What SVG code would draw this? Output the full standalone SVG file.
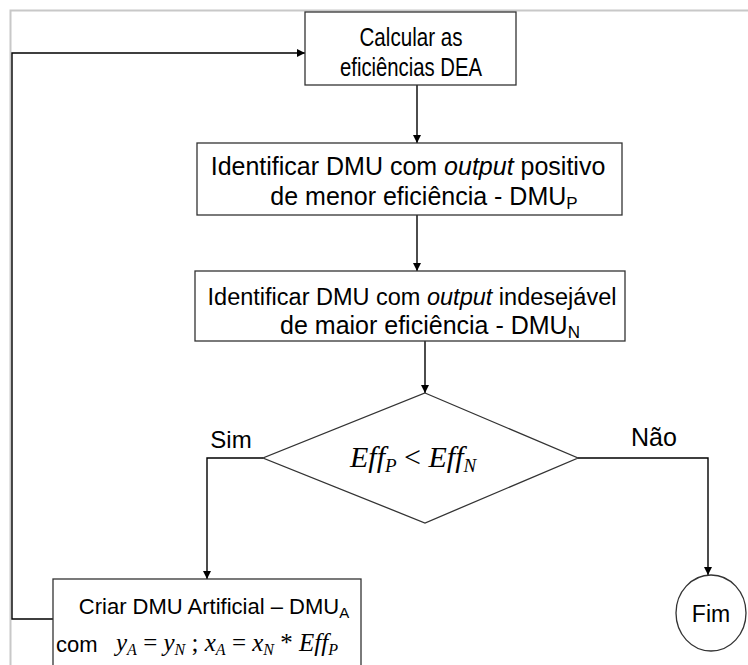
<svg xmlns="http://www.w3.org/2000/svg" width="748" height="665" viewBox="0 0 748 665">
<style>
.box{fill:#fff;stroke:#333;stroke-width:1.3}
.ln{fill:none;stroke:#000;stroke-width:1.4}
.t{font-family:"Liberation Sans",Arial,sans-serif;fill:#000;text-anchor:middle}
.m{font-family:"Liberation Serif","Times New Roman",serif;font-style:italic;fill:#000}
.up{font-style:normal}
</style>
<defs>
<marker id="ah" viewBox="0 0 10 10" refX="10" refY="5" markerWidth="8" markerHeight="8" markerUnits="userSpaceOnUse" orient="auto"><path d="M0,0 L10,5 L0,10 z" fill="#000"/></marker>
</defs>
<rect x="10.5" y="10.5" width="760" height="680" fill="none" stroke="#c8c8c8" stroke-width="2"/>
<g id="connectors">
<path class="ln" d="M53,619 H12 V53 H305" marker-end="url(#ah)"/>
<path class="ln" d="M417,85 V143" marker-end="url(#ah)"/>
<path class="ln" d="M417,215 V271" marker-end="url(#ah)"/>
<path class="ln" d="M425,341 V393" marker-end="url(#ah)"/>
<path class="ln" d="M263,458 H207 V579" marker-end="url(#ah)"/>
<path class="ln" d="M578,458 H708 V575" marker-end="url(#ah)"/>
</g>
<g id="n1">
<rect class="box" x="305" y="12" width="211" height="73"/>
<text class="t" x="411" y="46" font-size="25" textLength="103" lengthAdjust="spacingAndGlyphs">Calcular as</text>
<text class="t" x="411" y="76" font-size="25" textLength="142" lengthAdjust="spacingAndGlyphs">eficiências DEA</text>
</g>
<g id="n2">
<rect class="box" x="197" y="143" width="425" height="72"/>
<text class="t" x="408" y="175" font-size="25">Identificar DMU com <tspan font-style="italic">output</tspan> positivo</text>
<text class="t" x="424" y="205" font-size="25">de menor eficiência - DMU<tspan font-size="17" dy="4">P</tspan></text>
</g>
<g id="n3">
<rect class="box" x="195" y="271" width="430" height="70"/>
<text class="t" x="412" y="305" font-size="23.5">Identificar DMU com <tspan font-style="italic">output</tspan> indesejável</text>
<text class="t" x="430" y="334" font-size="25">de maior eficiência - DMU<tspan font-size="17" dy="4">N</tspan></text>
</g>
<g id="n4">
<polygon class="box" points="425,393 578,458 425,523 263,458"/>
<text class="m" x="350" y="467" font-size="30">Eff<tspan font-size="19" dy="5">P</tspan><tspan class="up" dy="-5"> &lt; </tspan>Eff<tspan font-size="19" dy="5">N</tspan></text>
</g>
<text class="t" x="231" y="448" font-size="24">Sim</text>
<text class="t" x="654" y="446" font-size="25">Não</text>
<g id="n5">
<rect class="box" x="53" y="579" width="308" height="100"/>
<text class="t" x="214" y="614" font-size="22">Criar DMU Artificial – DMU<tspan font-size="15" dy="4">A</tspan></text>
<text x="56" y="652" font-family="Liberation Sans, Arial, sans-serif" font-size="22">com</text>
<text class="m" x="116" y="651" font-size="25">y<tspan font-size="16" dy="4">A</tspan><tspan class="up" dy="-4"> = </tspan>y<tspan font-size="16" dy="4">N</tspan><tspan class="up" dy="-4"> ; </tspan>x<tspan font-size="16" dy="4">A</tspan><tspan class="up" dy="-4"> = </tspan>x<tspan font-size="16" dy="4">N</tspan><tspan class="up" dy="-4"> * </tspan>Eff<tspan font-size="16" dy="4">P</tspan></text>
</g>
<g id="n6">
<ellipse class="box" cx="711" cy="613" rx="35" ry="38"/>
<text class="t" x="711" y="622" font-size="23">Fim</text>
</g>
</svg>
